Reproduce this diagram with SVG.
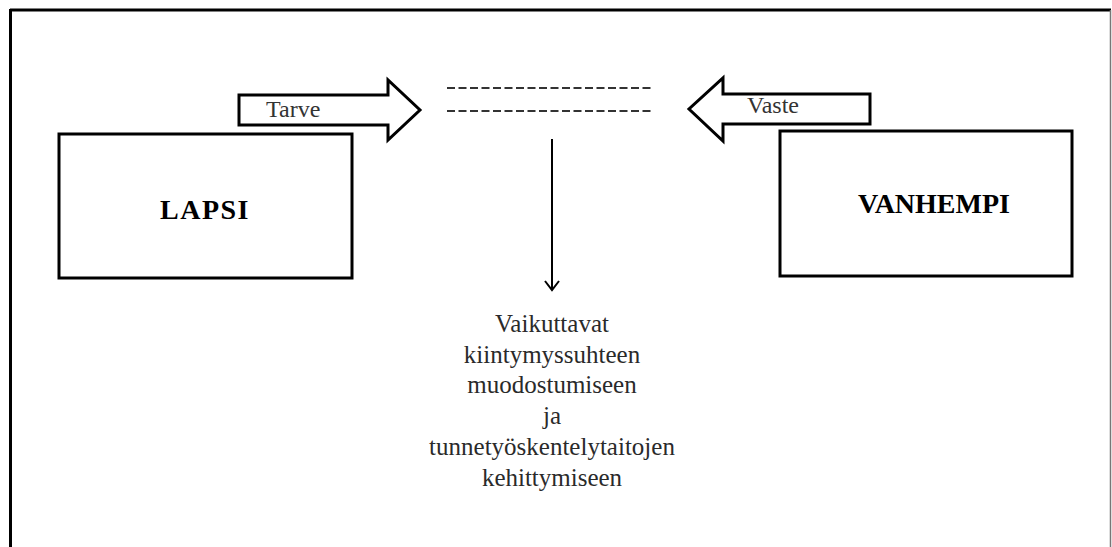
<svg xmlns="http://www.w3.org/2000/svg" width="1112" height="547" viewBox="0 0 1112 547">
  <defs>
    <style>
      .box { fill: #ffffff; stroke: #000000; stroke-width: 3; }
      .blk { fill: #ffffff; stroke: #000000; stroke-width: 3; stroke-linejoin: miter; }
      .lbl { font-family: "Liberation Serif", "DejaVu Serif", "Times New Roman", serif; font-size: 28px; font-weight: bold; fill: #000000; text-anchor: middle; }
      .small { font-family: "Liberation Serif", "DejaVu Serif", "Times New Roman", serif; font-size: 24px; fill: #333333; }
      .body { font-family: "Liberation Serif", "DejaVu Serif", "Times New Roman", serif; font-size: 25px; fill: #2a2a2a; text-anchor: middle; }
      .dash { stroke: #333333; stroke-width: 2; stroke-dasharray: 8 3.5; fill: none; }
      .conn { stroke: #000000; stroke-width: 2; fill: none; }
    </style>
  </defs>
  <rect x="0" y="0" width="1112" height="547" fill="#ffffff"/>
  <g id="frame">
    <line x1="10" y1="10" x2="1111" y2="10" stroke="#000000" stroke-width="3"/>
    <line x1="10.5" y1="9" x2="10.5" y2="547" stroke="#000000" stroke-width="3"/>
    <line x1="1110.5" y1="10" x2="1110.5" y2="547" stroke="#777777" stroke-width="1.5"/>
  </g>
  <g id="tarve">
    <polygon class="blk" points="239,95 388,95 388,80 420,110 388,140 388,125 239,125"/>
    <text class="small" x="266" y="117">Tarve</text>
  </g>
  <g id="vaste">
    <polygon class="blk" points="870,94 723,94 723,78 689,109 723,141 723,124 870,124"/>
    <text class="small" x="747" y="113">Vaste</text>
  </g>
  <g id="lapsi">
    <rect class="box" x="59" y="134" width="293" height="144"/>
    <text class="lbl" x="205" y="219" letter-spacing="1.5">LAPSI</text>
  </g>
  <g id="vanhempi">
    <rect class="box" x="780" y="131" width="292" height="145"/>
    <text class="lbl" x="934" y="213">VANHEMPI</text>
  </g>
  <g id="interaction">
    <line class="dash" x1="447" y1="88" x2="653" y2="88"/>
    <line class="dash" x1="447" y1="111" x2="653" y2="111"/>
  </g>
  <g id="outcome">
    <text class="body" x="552" y="332">Vaikuttavat</text>
    <text class="body" x="552" y="363">kiintymyssuhteen</text>
    <text class="body" x="552" y="393">muodostumiseen</text>
    <text class="body" x="552" y="424">ja</text>
    <text class="body" x="552" y="455">tunnetyöskentelytaitojen</text>
    <text class="body" x="552" y="486">kehittymiseen</text>
  </g>
  <g id="connectors">
    <line class="conn" x1="552" y1="139" x2="552" y2="289"/>
    <polyline class="conn" points="545,281 552,290 559,281"/>
  </g>
</svg>
